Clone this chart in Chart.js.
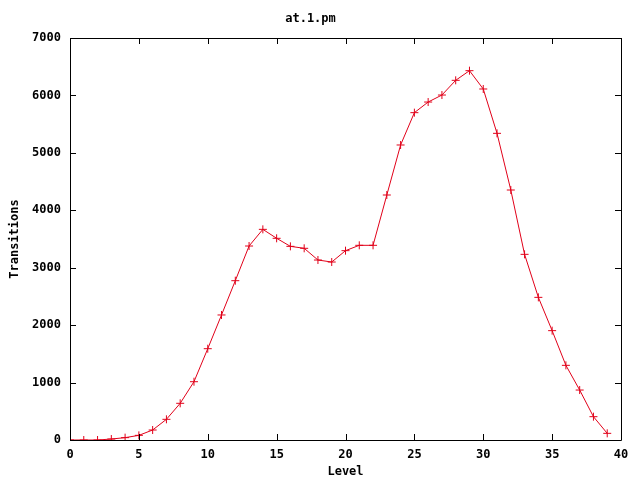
<!DOCTYPE html>
<html>
<head>
<meta charset="utf-8">
<script src="https://cdn.jsdelivr.net/npm/chart.js@4/dist/chart.umd.min.js"></script>
<style>
  html, body { margin: 0; padding: 0; background: #fff; }
  #plot { display: block; }
</style>
</head>
<body>
<canvas id="plot" width="640" height="480"></canvas>
<script>
// data
const levels = [0, 1, 2, 3, 4, 5, 6, 7, 8, 9, 10, 11, 12, 13, 14, 15, 16, 17, 18, 19,
                20, 21, 22, 23, 24, 25, 26, 27, 28, 29, 30, 31, 32, 33, 34, 35, 36, 37, 38, 39];
const transitions = [0, 0, 0, 17, 41, 81, 174, 360, 639, 1015, 1590, 2177, 2774, 3378, 3668, 3512, 3372, 3338, 3134, 3099,
                     3297, 3390, 3390, 4266, 5137, 5700, 5885, 6007, 6263, 6431, 6112, 5340, 4353, 3233, 2484, 1904, 1300, 870, 406, 116];
const xTicks = [0, 5, 10, 15, 20, 25, 30, 35, 40];
const yTicks = [0, 1000, 2000, 3000, 4000, 5000, 6000, 7000];

const lineColor = 'rgb(225, 0, 25)';
const monoFont = '"DejaVu Sans Mono", "Liberation Mono", monospace';

// gnuplot style frame: box around the plot, ticks pointing inward on all four sides
const frameTicks = {
  id: 'frameTicks',
  afterDraw(chart) {
    const ctx = chart.ctx;
    const a = chart.chartArea;
    const xs = chart.scales.x, ys = chart.scales.y;
    const len = 6;
    ctx.save();
    ctx.strokeStyle = '#000';
    ctx.lineWidth = 1;
    ctx.beginPath();
    ctx.rect(Math.round(a.left) + 0.5, Math.round(a.top) + 0.5,
             Math.round(a.right - a.left), Math.round(a.bottom - a.top));
    xTicks.forEach(v => {
      const px = Math.round(xs.getPixelForValue(v)) + 0.5;
      ctx.moveTo(px, a.bottom); ctx.lineTo(px, a.bottom - len);
      ctx.moveTo(px, a.top); ctx.lineTo(px, a.top + len);
    });
    yTicks.forEach(v => {
      const py = Math.round(ys.getPixelForValue(v)) + 0.5;
      ctx.moveTo(a.left, py); ctx.lineTo(a.left + len, py);
      ctx.moveTo(a.right, py); ctx.lineTo(a.right - len, py);
    });
    ctx.stroke();
    ctx.restore();
  }
};

new Chart(document.getElementById('plot').getContext('2d'), {
  type: 'scatter',
  data: {
    datasets: [{
      label: 'at.1.pm',
      data: levels.map((l, i) => ({ x: l, y: transitions[i] })),
      showLine: true,
      borderColor: lineColor,
      borderWidth: 1,
      pointStyle: 'cross',
      pointRadius: 4,
      pointBorderColor: lineColor,
      pointBorderWidth: 1,
      tension: 0
    }]
  },
  options: {
    responsive: false,
    animation: false,
    layout: { padding: { left: 0, right: 19, top: 0, bottom: 0 } },
    plugins: {
      legend: { display: false },
      tooltip: { enabled: false },
      title: {
        display: true,
        text: 'at.1.pm',
        color: '#000',
        font: { family: monoFont, size: 12, weight: 'bold' },
        padding: { top: 12, bottom: 11.6 }
      }
    },
    scales: {
      x: {
        type: 'linear',
        min: 0,
        max: 40,
        afterFit: s => { s.height = 40; },
        afterBuildTicks: s => { s.ticks = xTicks.map(v => ({ value: v })); },
        grid: { display: false, drawTicks: false },
        border: { display: false },
        ticks: { color: '#000', padding: 8, maxRotation: 0, callback: v => String(v),
                 font: { family: monoFont, size: 12, weight: 'bold' } },
        title: {
          display: true,
          text: 'Level',
          color: '#000',
          font: { family: monoFont, size: 12, weight: 'bold' },
          padding: { top: 0, bottom: 1 }
        }
      },
      y: {
        type: 'linear',
        min: 0,
        max: 7000,
        afterFit: s => { s.width = 70; },
        afterBuildTicks: s => { s.ticks = yTicks.map(v => ({ value: v })); },
        grid: { display: false, drawTicks: false },
        border: { display: false },
        ticks: { color: '#000', padding: 9, callback: v => String(v),
                 font: { family: monoFont, size: 12, weight: 'bold' } },
        title: {
          display: true,
          text: 'Transitions',
          color: '#000',
          font: { family: monoFont, size: 12, weight: 'bold' },
          padding: { top: 8, bottom: 0 }
        }
      }
    }
  },
  plugins: [frameTicks]
});
</script>
</body>
</html>
